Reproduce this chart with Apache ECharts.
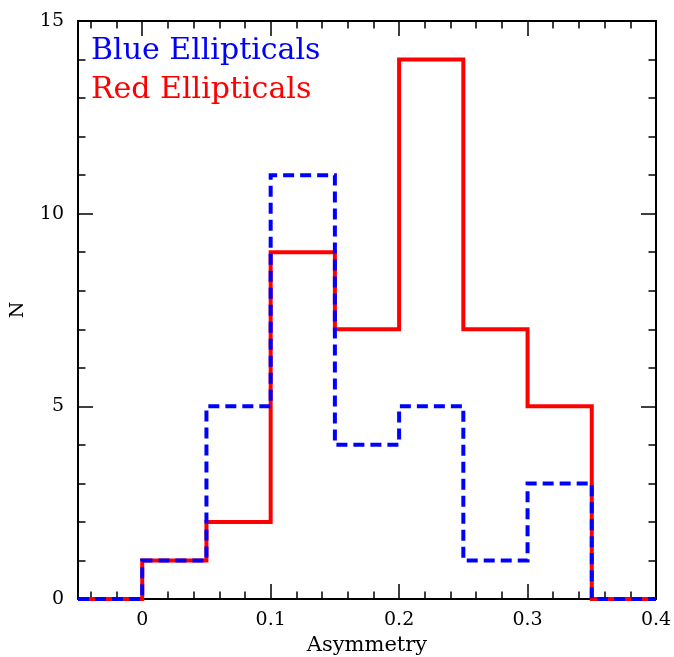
<!DOCTYPE html>
<html>
<head>
<meta charset="utf-8">
<script src="https://cdn.jsdelivr.net/npm/echarts@6/dist/echarts.min.js"></script>
<style>
  html, body { margin: 0; padding: 0; background: #fff; }
  #chart { width: 674px; height: 657px; }
</style>
</head>
<body>
<div id="chart"></div>
<script>
// Histogram bin edges (asymmetry) and counts per bin
const binEdges = [-0.05, 0, 0.05, 0.1, 0.15, 0.2, 0.25, 0.3, 0.35, 0.4];
const redCounts = [0, 1, 2, 9, 7, 14, 7, 5, 0];
const blueCounts = [0, 1, 5, 11, 4, 5, 1, 3, 0];

// Axis tick positions
const xMajorTicks = [0, 0.1, 0.2, 0.3, 0.4];
const xMinorTicks = [-0.04, -0.02, 0.02, 0.04, 0.06, 0.08, 0.12, 0.14, 0.16, 0.18,
                     0.22, 0.24, 0.26, 0.28, 0.32, 0.34, 0.36, 0.38];
const yMajorTicks = [0, 5, 10, 15];

const FONT = 'DejaVu Serif';

// Turn bin counts into the outline of a step histogram
function stepOutline(counts) {
  const pts = [];
  counts.forEach((n, i) => {
    pts.push([binEdges[i], n]);
    pts.push([binEdges[i + 1], n]);
  });
  return pts;
}

function xAxisDef(pos, ticks, len, withLabels, showLine) {
  return {
    type: 'value', position: pos, min: -0.05, max: 0.4,
    axisLine: { show: showLine, onZero: false, lineStyle: { color: '#000', width: 2 } },
    axisTick: { show: true, inside: true, length: len, customValues: ticks,
                lineStyle: { color: '#000', width: 1.5 } },
    axisLabel: withLabels
      ? { show: true, customValues: ticks, margin: 12, color: '#000',
          fontFamily: FONT, fontSize: 19,
          formatter: v => (v === 0 ? '0' : String(Math.round(v * 10) / 10)) }
      : { show: false },
    splitLine: { show: false }
  };
}

const chart = echarts.init(document.getElementById('chart'), null, { renderer: 'canvas' });

const xBottomMajor = xAxisDef('bottom', xMajorTicks, 15, true, true);
xBottomMajor.name = 'Asymmetry';
xBottomMajor.nameLocation = 'middle';
xBottomMajor.nameGap = 36;
xBottomMajor.nameTextStyle = { color: '#000', fontFamily: FONT, fontSize: 21 };

function yAxisDef(pos, withLabels) {
  return {
    type: 'value', position: pos, min: 0, max: 15, interval: 5,
    axisLine: { show: true, onZero: false, lineStyle: { color: '#000', width: 2 } },
    axisTick: { show: true, inside: true, length: 15, lineStyle: { color: '#000', width: 1.5 } },
    minorTick: { show: true, splitNumber: 5, length: 7.5, lineStyle: { color: '#000', width: 1.5 } },
    axisLabel: withLabels
      ? { show: true, margin: 14, color: '#000', fontFamily: FONT, fontSize: 19,
          customValues: yMajorTicks }
      : { show: false },
    splitLine: { show: false }
  };
}

const yLeft = yAxisDef('left', true);
yLeft.name = 'N';
yLeft.nameLocation = 'middle';
yLeft.nameGap = 50;
yLeft.nameTextStyle = { color: '#000', fontFamily: FONT, fontSize: 19 };

chart.setOption({
  animation: false,
  backgroundColor: '#fff',
  grid: { left: 78, right: 18, top: 21, bottom: 58, containLabel: false, outerBoundsMode: 'none' },
  xAxis: [
    xBottomMajor,
    xAxisDef('bottom', xMinorTicks, 7.5, false, false),
    xAxisDef('top', xMajorTicks, 15, false, true),
    xAxisDef('top', xMinorTicks, 7.5, false, false)
  ],
  yAxis: [
    yLeft,
    yAxisDef('right', false)
  ],
  graphic: [
    { type: 'text', left: 91, top: 36, z: 100,
      style: { text: 'Blue Ellipticals', fill: '#0000ff', font: '30px "DejaVu Serif"' } },
    { type: 'text', left: 91, top: 75, z: 100,
      style: { text: 'Red Ellipticals', fill: '#ff0000', font: '30px "DejaVu Serif"' } }
  ],
  series: [
    {
      name: 'Red Ellipticals', type: 'line', xAxisIndex: 0, yAxisIndex: 0,
      data: stepOutline(redCounts), symbol: 'none', clip: false, z: 3,
      lineStyle: { color: '#ff0000', width: 4, join: 'miter', cap: 'butt' }
    },
    {
      name: 'Blue Ellipticals', type: 'line', xAxisIndex: 0, yAxisIndex: 0,
      data: stepOutline(blueCounts), symbol: 'none', clip: false, z: 4,
      lineStyle: { color: '#0000ff', width: 4, type: [11, 6], join: 'miter', cap: 'butt' }
    }
  ]
});
</script>
</body>
</html>
